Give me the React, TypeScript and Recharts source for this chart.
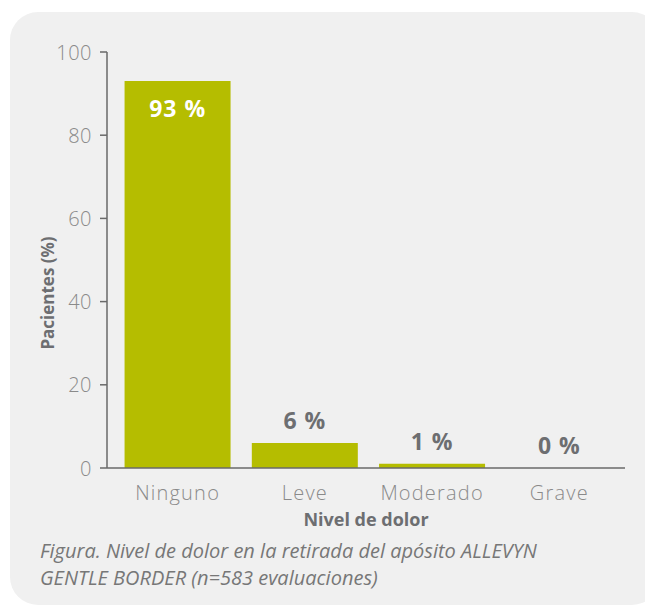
import React from 'react';
import { ComposedChart, Bar, Scatter, XAxis, YAxis } from 'recharts';

const categories = ['Ninguno', 'Leve', 'Moderado', 'Grave'];
const pacientes = [93, 6, 1, 0];
const yTicks = [0, 20, 40, 60, 80, 100];

const data = categories.map((nivel, i) => ({ nivel, pacientes: pacientes[i] }));

const FONT = '"Open Sans", Lato, sans-serif';
const BAR = '#b5bd00';
const AXIS = '#6a6a6a';
const GREY_TEXT = '#6d6e71';
const TICK_TEXT = '#8a8a8a';

// value label drawn at the top of each bar (works for zero-height bars too)
const ValueLabel = (props: any) => {
  const { cx, cy, payload } = props;
  const value = payload.pacientes;
  const inside = value > 50;
  return (
    <text
      x={cx}
      y={inside ? cy + 27 : cy - 23}
      textAnchor="middle"
      dominantBaseline="central"
      fontFamily={FONT}
      fontWeight={700}
      fontSize={23}
      letterSpacing={1}
      fill={inside ? '#ffffff' : GREY_TEXT}
    >
      {`${value} %`}
    </text>
  );
};

const XTick = (props: any) => {
  const { x, y, payload } = props;
  return (
    <text x={x} y={y + 16} textAnchor="middle" dominantBaseline="central" fontFamily={FONT} fontWeight={300} fontSize={20} letterSpacing={1.2} fill={TICK_TEXT}>
      {payload.value}
    </text>
  );
};

const YTick = (props: any) => {
  const { x, y, payload } = props;
  return (
    <text x={x - 6} y={y} textAnchor="end" dominantBaseline="central" fontFamily={FONT} fontWeight={300} fontSize={20} letterSpacing={0.5} fill={TICK_TEXT}>
      {payload.value}
    </text>
  );
};

const YTitle = () => (
  <text
    transform="translate(47 293) rotate(-90)"
    textAnchor="middle"
    dominantBaseline="central"
    fontFamily={FONT}
    fontWeight={700}
    fontSize={17}
    fill={GREY_TEXT}
  >
    Pacientes (%)
  </text>
);

export default function App() {
  return (
    <div style={{ position: 'absolute', left: 0, top: 0, width: 645, height: 611, overflow: 'hidden', background: '#fff' }}>
      <div
        style={{
          position: 'absolute',
          left: 10,
          top: 12,
          width: 650,
          height: 593,
          borderRadius: 28,
          background: '#f0f0f0',
        }}
      />
      <div style={{ position: 'absolute', left: 0, top: 0 }}>
        <ComposedChart
          width={645}
          height={611}
          data={data}
          margin={{ top: 52, right: 20, left: 0, bottom: 113 }}
          barCategoryGap="8.3%"
        >
          <XAxis
            dataKey="nivel"
            axisLine={{ stroke: AXIS, strokeWidth: 1.5 }}
            tickLine={false}
            tick={<XTick />}
            padding={{ left: 7, right: 2 }}
            height={30}
            label={{
              value: 'Nivel de dolor',
              position: 'bottom',
              offset: 15,
              fill: GREY_TEXT,
              fontFamily: FONT,
              fontWeight: 700,
              fontSize: 18,
            }}
          />
          <YAxis
            width={107}
            domain={[0, 100]}
            ticks={yTicks}
            interval={0}
            axisLine={{ stroke: AXIS, strokeWidth: 1.5 }}
            tickLine={{ stroke: AXIS, strokeWidth: 1.5 }}
            tickSize={7}
            tick={<YTick />}
            label={<YTitle />}
          />
          <Bar dataKey="pacientes" fill={BAR} isAnimationActive={false} />
          <Scatter dataKey="pacientes" shape={<ValueLabel />} isAnimationActive={false} />
        </ComposedChart>
      </div>
      <div
        style={{
          position: 'absolute',
          left: 40,
          top: 537,
          fontFamily: FONT,
          fontStyle: 'italic',
          fontWeight: 400,
          fontSize: 20,
          lineHeight: '27px',
          color: '#777',
          whiteSpace: 'nowrap',
        }}
      >
        Figura. Nivel de dolor en la retirada del apósito ALLEVYN
        <br />
        GENTLE BORDER (n=583 evaluaciones)
      </div>
    </div>
  );
}
